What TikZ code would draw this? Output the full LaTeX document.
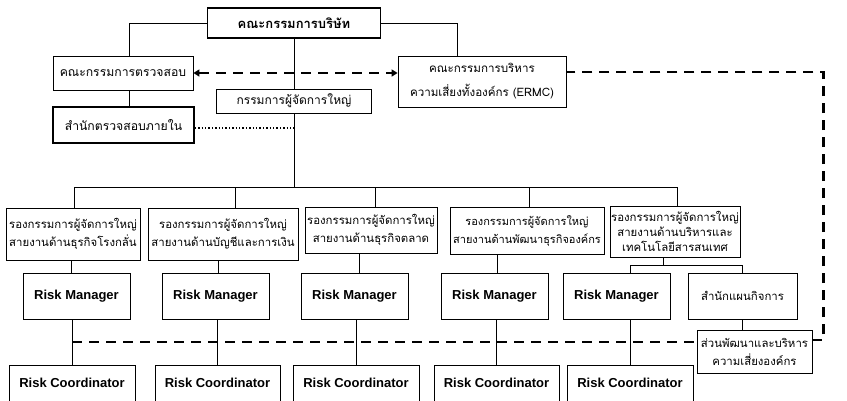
\documentclass[tikz,border=0pt]{standalone}
\usepackage{fontspec}
\setmainfont{Liberation Sans}
\newfontfamily\thai[Script=Thai]{Loma}
\usetikzlibrary{arrows.meta}

\tikzset{
  box/.style={draw, line width=0.8pt, inner sep=0.5pt, align=center,
    font=\thai\fontsize{11.4}{18}\selectfont},
  thickbox/.style={box, line width=1.6pt},
  riskbox/.style={draw, line width=0.8pt, minimum height=46pt,
    font=\bfseries\fontsize{13}{15}\selectfont},
  link/.style={line width=0.9pt},
  ermlink/.style={line width=2.2pt, dash pattern=on 10pt off 7pt},
}

\begin{document}
\begin{tikzpicture}[x=1pt,y=-1pt]
\useasboundingbox (0,0) rectangle (847,400);

% board and committees
\node[thickbox, minimum width=173pt, minimum height=30pt, font=\thai\bfseries\fontsize{13}{15}\selectfont] (board) at (294,23) {คณะกรรมการบริษัท};
\node[box, minimum width=140pt, minimum height=34pt, font=\thai\fontsize{12.2}{18}\selectfont] (audit) at (123,73) {คณะกรรมการตรวจสอบ};
\node[box, minimum width=168pt, minimum height=51pt, font=\thai\fontsize{11.6}{24}\selectfont] (ermc) at (482,81.5) {คณะกรรมการบริหาร\\ความเสี่ยงทั้งองค์กร (ERMC)};
\node[box, minimum width=155pt, minimum height=24pt, font=\thai\fontsize{12}{18}\selectfont] (gm) at (294,101) {กรรมการผู้จัดการใหญ่};
\node[thickbox, minimum width=141pt, minimum height=36pt, font=\thai\fontsize{12.2}{18}\selectfont] (ia) at (123.5,125) {สำนักตรวจสอบภายใน};
\coordinate (bus) at (294,187);

\draw[link] (board.west) -| ([xshift=6pt]audit.north);
\draw[link] (board.east) -| ([xshift=-25pt]ermc.north);
\draw[link] ([xshift=6pt]audit.south) -- ([xshift=5.5pt]ia.north);
\draw[link] (board.south) -- (gm.north);
\draw[link] (gm.south) -- (bus);
\coordinate (iaout) at ([yshift=-3pt]ia.east);
\draw[dotted, line width=1.4pt] (iaout) -- (iaout -| bus);
\draw[ermlink, {Triangle[length=6pt,width=7pt]}-{Triangle[length=6pt,width=7pt]}] (audit.east) -- (audit.east -| ermc.west);

% vice presidents
\node[box, minimum width=134pt, minimum height=52pt] (vp1) at (73,234) {รองกรรมการผู้จัดการใหญ่\\สายงานด้านธุรกิจโรงกลั่น};
\node[box, minimum width=150pt, minimum height=52pt] (vp2) at (223,234) {รองกรรมการผู้จัดการใหญ่\\สายงานด้านบัญชีและการเงิน};
\node[box, minimum width=132pt, minimum height=46pt] (vp3) at (371,230) {รองกรรมการผู้จัดการใหญ่\\สายงานด้านธุรกิจตลาด};
\node[box, minimum width=154pt, minimum height=47pt, font=\thai\fontsize{11}{18}\selectfont] (vp4) at (527,230.5) {รองกรรมการผู้จัดการใหญ่\\สายงานด้านพัฒนาธุรกิจองค์กร};
\node[box, minimum width=130pt, minimum height=51pt, font=\thai\fontsize{11.4}{15}\selectfont] (vp5) at (675,231.5) {รองกรรมการผู้จัดการใหญ่\\สายงานด้านบริหารและ\\เทคโนโลยีสารสนเทศ};

\foreach \v/\s in {vp1/1, vp2/12, vp3/4, vp4/2, vp5/2} {
  \coordinate (t\v) at ([xshift=\s pt]\v.north);
  \draw[link] (t\v) -- (t\v |- bus);
}
\draw[link] (tvp1 |- bus) -- (tvp5 |- bus);

% risk managers
\node[riskbox, minimum width=107pt] (rm1) at (76.5,296) {Risk Manager};
\node[riskbox, minimum width=107pt] (rm2) at (215.5,296) {Risk Manager};
\node[riskbox, minimum width=107pt] (rm3) at (354.5,296) {Risk Manager};
\node[riskbox, minimum width=107pt] (rm4) at (494.5,296) {Risk Manager};
\node[riskbox, minimum width=107pt] (rm5) at (616.5,296) {Risk Manager};
\node[box, minimum width=109pt, minimum height=46pt] (plan) at (742.5,296) {สำนักแผนกิจการ};

% risk coordinators
\node[riskbox, minimum width=126pt, minimum height=36pt] (rc1) at (72,383) {Risk Coordinator};
\node[riskbox, minimum width=125pt, minimum height=36pt] (rc2) at (217.5,383) {Risk Coordinator};
\node[riskbox, minimum width=126pt, minimum height=36pt] (rc3) at (356,383) {Risk Coordinator};
\node[riskbox, minimum width=125pt, minimum height=36pt] (rc4) at (496.5,383) {Risk Coordinator};
\node[riskbox, minimum width=126pt, minimum height=36pt] (rc5) at (630,383) {Risk Coordinator};
\node[box, minimum width=115pt, minimum height=43pt] (dev) at (754.5,351.5) {ส่วนพัฒนาและบริหาร\\ความเสี่ยงองค์กร};

\foreach \v/\r/\s in {vp1/rm1/-5.5, vp2/rm2/2.5, vp3/rm3/4.5, vp4/rm4/2.5} {
  \coordinate (d\r) at ([xshift=\s pt]\r.north);
  \draw[link] (d\r |- \v.south) -- (d\r);
}
\coordinate (sbus) at ([yshift=-8pt]vp5.south);
\draw[link] ([xshift=-12pt]vp5.south) -- ([xshift=-12pt]sbus);
\draw[link] (rc5.north |- rm5.north) -- (rc5.north |- sbus) -- (plan.north |- sbus) -- (plan.north);
\foreach \i in {1,...,5}
  \draw[link] (rc\i.north) -- (rc\i.north |- rm\i.south);
\draw[link] (plan.south) -- (plan.south |- dev.north);

% risk reporting lines
\coordinate (dv) at ([yshift=9.5pt]dev.west);
\draw[ermlink] (rc1.north |- dv) -- (dv);
\draw[ermlink] ([yshift=11.5pt]dev.east) -- ++(11,0) |- ([yshift=9.5pt]ermc.east);
\end{tikzpicture}
\end{document}
